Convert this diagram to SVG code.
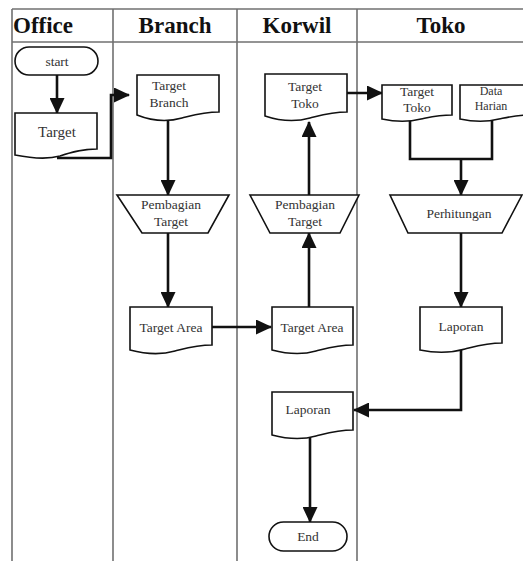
<svg xmlns="http://www.w3.org/2000/svg" width="523" height="561" viewBox="0 0 523 561">
  <style>
    .lane { stroke: #707070; stroke-width: 1.6; fill: none; }
    .hdr { font-family: "Liberation Serif", "Times New Roman", serif; font-weight: bold; font-size: 23px; fill: #111; }
    .shape { fill: #fff; stroke: #111; stroke-width: 1.6; }
    .lbl { font-family: "Liberation Serif", "Times New Roman", serif; font-size: 13.5px; fill: #333; text-anchor: middle; }
    .sm { font-size: 12px; }
    .conn { fill: none; stroke: #111; stroke-width: 2.6; }
  </style>
  <defs>
    <marker id="arrow" markerUnits="userSpaceOnUse" markerWidth="16" markerHeight="15" refX="15" refY="7.5" orient="auto">
      <path d="M0,0 L16,7.5 L0,15 Z" fill="#111"/>
    </marker>
  </defs>

  <rect width="523" height="561" fill="#fff"/>

  <!-- swimlanes -->
  <g id="lanes">
    <line class="lane" x1="12" y1="9" x2="523" y2="9"/>
    <line class="lane" x1="12" y1="42" x2="523" y2="42"/>
    <line class="lane" x1="12" y1="9" x2="12" y2="561"/>
    <line class="lane" x1="113" y1="9" x2="113" y2="561"/>
    <line class="lane" x1="237" y1="9" x2="237" y2="561"/>
    <line class="lane" x1="357" y1="9" x2="357" y2="561"/>
    <text class="hdr" x="13" y="33">Office</text>
    <text class="hdr" x="175" y="33" text-anchor="middle">Branch</text>
    <text class="hdr" x="297" y="33" text-anchor="middle">Korwil</text>
    <text class="hdr" x="441" y="33" text-anchor="middle">Toko</text>
  </g>

  <!-- connectors -->
  <g id="connectors">
    <path class="conn" d="M57,75 V113" marker-end="url(#arrow)"/>
    <path class="conn" d="M57,158 H111 V95 H129" marker-end="url(#arrow)"/>
    <path class="conn" d="M168,120 V195" marker-end="url(#arrow)"/>
    <path class="conn" d="M168,233 V307" marker-end="url(#arrow)"/>
    <path class="conn" d="M212,327 H271" marker-end="url(#arrow)"/>
    <path class="conn" d="M309,307 V233" marker-end="url(#arrow)"/>
    <path class="conn" d="M309,195 V122" marker-end="url(#arrow)"/>
    <path class="conn" d="M347,93 H382" marker-end="url(#arrow)"/>
    <path class="conn" d="M410,119 V159 H492 V118"/>
    <path class="conn" d="M461,159 V195" marker-end="url(#arrow)"/>
    <path class="conn" d="M461,233 V307" marker-end="url(#arrow)"/>
    <path class="conn" d="M461,348 V410 H354" marker-end="url(#arrow)"/>
    <path class="conn" d="M310,437 V522" marker-end="url(#arrow)"/>
  </g>

  <!-- Office -->
  <g id="start">
    <rect class="shape" x="15" y="47" width="83" height="28" rx="14"/>
    <text class="lbl" x="57" y="66">start</text>
  </g>
  <g id="office-target">
    <path class="shape" d="M15,113 H97 V149 C82,149 72,152 60,156 C46,160 30,158 15,155 Z"/>
    <text class="lbl" x="57" y="137" style="font-size:15px">Target</text>
  </g>

  <!-- Branch -->
  <g id="target-branch">
    <path class="shape" d="M137,75 H219 V112 C204,112 194,115 182,118 C168,122 152,121 137,115 Z"/>
    <text class="lbl" x="169" y="90">Target</text>
    <text class="lbl" x="169" y="107">Branch</text>
  </g>
  <g id="branch-pembagian">
    <path class="shape" d="M117,195 H229 L208,233 H142 Z"/>
    <text class="lbl" x="171" y="209">Pembagian</text>
    <text class="lbl" x="171" y="226">Target</text>
  </g>
  <g id="branch-target-area">
    <path class="shape" d="M130,307 H212 V345 C197,345 187,348 175,351 C161,355 145,354 130,350 Z"/>
    <text class="lbl" x="171" y="332">Target Area</text>
  </g>

  <!-- Korwil -->
  <g id="korwil-target-toko">
    <path class="shape" d="M265,74 H347 V112 C332,112 322,115 310,118 C296,122 280,121 265,116 Z"/>
    <text class="lbl" x="305" y="91">Target</text>
    <text class="lbl" x="305" y="108">Toko</text>
  </g>
  <g id="korwil-pembagian">
    <path class="shape" d="M250,195 H359 L340,233 H270 Z"/>
    <text class="lbl" x="305" y="209">Pembagian</text>
    <text class="lbl" x="305" y="226">Target</text>
  </g>
  <g id="korwil-target-area">
    <path class="shape" d="M272,307 H353 V345 C338,345 328,348 316,351 C302,355 287,354 272,350 Z"/>
    <text class="lbl" x="312" y="332">Target Area</text>
  </g>
  <g id="korwil-laporan">
    <path class="shape" d="M272,392 H353 V430 C338,430 328,433 316,436 C302,440 287,439 272,435 Z"/>
    <text class="lbl" x="308" y="414">Laporan</text>
  </g>
  <g id="end">
    <rect class="shape" x="269" y="522" width="78" height="29" rx="14.5"/>
    <text class="lbl" x="308" y="541">End</text>
  </g>

  <!-- Toko -->
  <g id="toko-target-toko">
    <path class="shape" d="M382,85 H452 V115 C439,115 431,117 421,119 C409,122 396,122 382,119 Z"/>
    <text class="lbl" x="417" y="96">Target</text>
    <text class="lbl" x="417" y="112">Toko</text>
  </g>
  <g id="data-harian">
    <path class="shape" d="M460,85 H530 V115 C517,115 509,117 499,119 C487,122 474,122 460,119 Z"/>
    <text class="lbl sm" x="491" y="95">Data</text>
    <text class="lbl sm" x="491" y="110">Harian</text>
  </g>
  <g id="perhitungan">
    <path class="shape" d="M390,195 H522 L502,233 H408 Z"/>
    <text class="lbl" x="459" y="218">Perhitungan</text>
  </g>
  <g id="toko-laporan">
    <path class="shape" d="M420,307 H502 V343 C487,343 477,346 465,349 C451,353 435,353 420,350 Z"/>
    <text class="lbl" x="461" y="331">Laporan</text>
  </g>
</svg>
